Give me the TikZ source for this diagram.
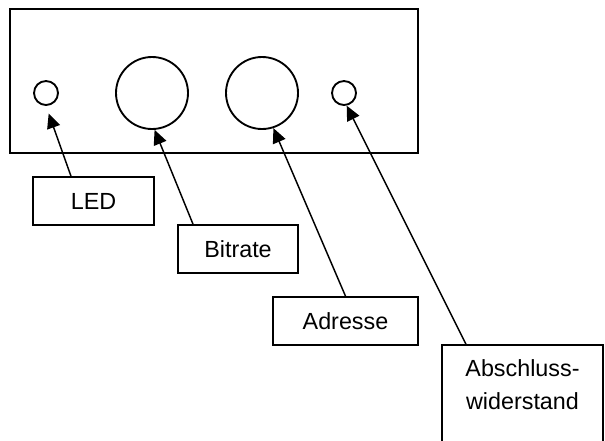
\documentclass[tikz,border=0pt]{standalone}
\usepackage{fontspec}
\setmainfont{Liberation Sans}
\usetikzlibrary{arrows.meta}

\begin{document}
\begin{tikzpicture}[x=0.75pt, y=-0.75pt,
    panel/.style={draw, rectangle, line width=1.5pt, inner sep=0pt},
    knob/.style={draw, circle, line width=1.4pt, inner sep=0pt, minimum size=54pt},
    lamp/.style={draw, circle, line width=1.4pt, inner sep=0pt, minimum size=18pt},
    tag/.style={draw, rectangle, line width=1.3pt, inner sep=0pt, minimum height=36pt,
        font=\fontsize{17.5}{21}\selectfont, align=center},
    pointer/.style={-{Triangle[length=11pt, width=10pt]}, line width=1.1pt},
]
\useasboundingbox (0,0) rectangle (605,440);
\clip (0,0) rectangle (605,440);

% housing with the elements
\node[panel, minimum width=306pt, minimum height=108pt] (front) at (214,81) {};
\node[lamp] (led) at (46,93) {};
\node[knob] (bitrate) at (152,93) {};
\node[knob] (adresse) at (262,93) {};
\node[lamp] (term) at (344,93) {};

% labels
\node[tag, minimum width=90.75pt] (ledbox) at (93.5,201) {LED};
\node[tag, minimum width=90pt] (bitbox) at (238,249) {Bitrate};
\node[tag, minimum width=108.75pt] (adrbox) at (345.5,321) {Adresse};
\node[tag, minimum width=120.75pt, minimum height=78pt] (termbox) at (522.5,397)
    {Abschluss-\\[4pt]widerstand\\[-2pt]};

\draw[pointer, shorten >=6pt] ([xshift=-16.9pt]ledbox.north) -- (led.south);
\draw[pointer] ([xshift=-33.75pt]bitbox.north) -- (bitrate.-86);
\draw[pointer] (adrbox.north) -- (adresse.-72);
\draw[pointer] ([xshift=-42.4pt]termbox.north) -- (term.-78);
\end{tikzpicture}
\end{document}
